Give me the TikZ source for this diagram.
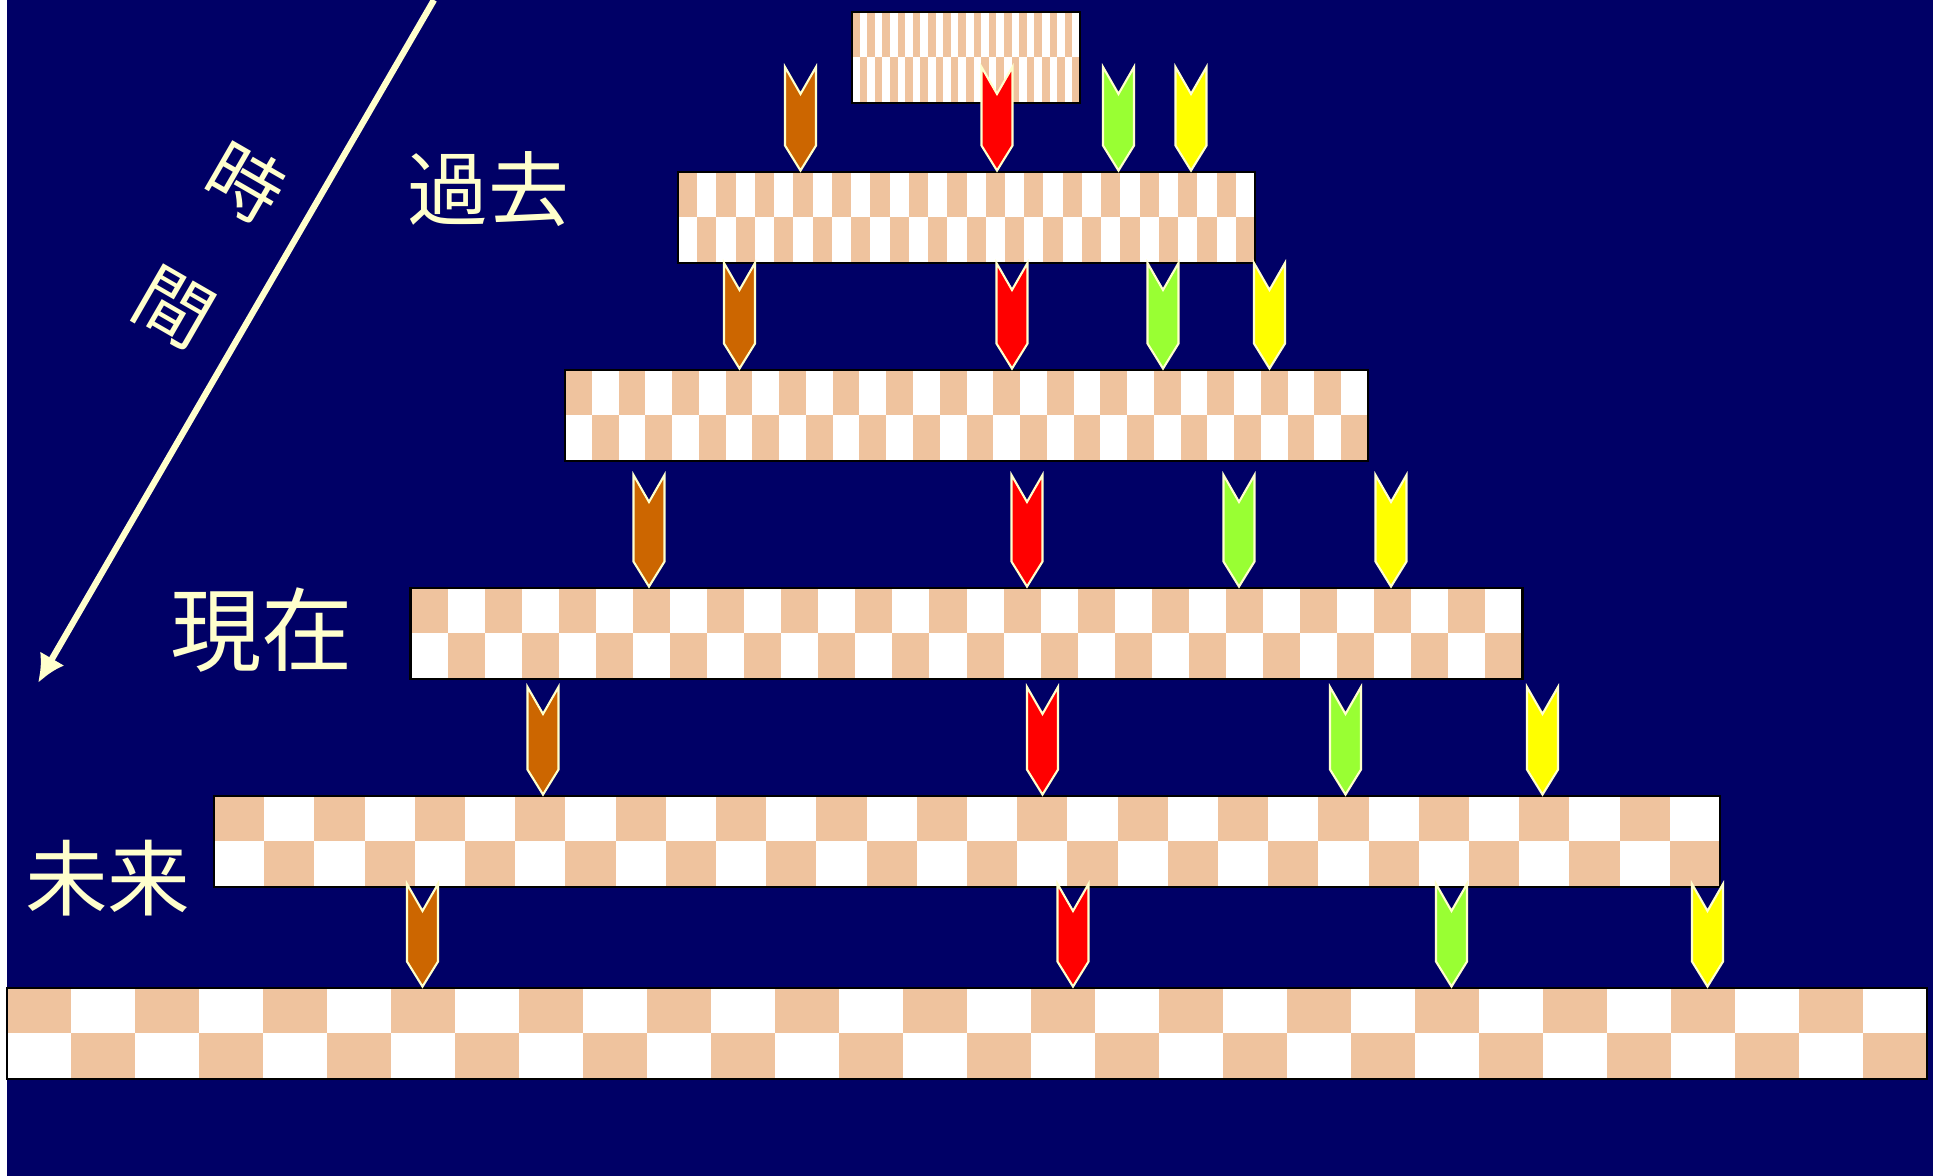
\documentclass[tikz,border=0pt]{standalone}
\usepackage{fontspec}
\newfontfamily\jpfont{Noto Sans CJK JP}
\usepackage{tikz}
\usetikzlibrary{arrows.meta,calc}
\definecolor{nightblue}{HTML}{000066}
\definecolor{checktan}{HTML}{EFC39E}
\definecolor{creamtext}{HTML}{FFFFCC}
\definecolor{flag1}{HTML}{CC6600}
\definecolor{flag2}{HTML}{FF0000}
\definecolor{flag3}{HTML}{99FF33}
\definecolor{flag4}{HTML}{FFFF00}

\tikzset{
  checkbar/.style={draw=black, line width=0.8pt, fill=white, inner sep=0pt,
    minimum height=0.91cm, minimum width=#1,
    path picture={
      \foreach \i [evaluate=\i as \a using \i/30, evaluate=\i as \b using (\i+1)/30,
                   evaluate=\i as \c using (\i+2)/30] in {0,2,...,28} {
        \fill[checktan] ($(path picture bounding box.north west)!\a!(path picture bounding box.north east)$)
          rectangle ($(path picture bounding box.west)!\b!(path picture bounding box.east)$);
        \fill[checktan] ($(path picture bounding box.west)!\b!(path picture bounding box.east)$)
          rectangle ($(path picture bounding box.south west)!\c!(path picture bounding box.south east)$);
      }
    }},
  eralabel/.style={text=creamtext, inner sep=0pt, font=\jpfont\fontsize{#1}{#1}\selectfont}
}

% pennant: x, top y, target bar, colour
\newcommand{\pennant}[4]{%
  \coordinate (ftop) at (#1,#2);
  \coordinate (ftip) at (#1,0 |- #3.north);
  \filldraw[fill=#4, draw=creamtext, line width=0.6pt]
    ($(ftop)+(-0.155,0)$) -- ($(ftop)+(0,-0.27)$) -- ($(ftop)+(0.155,0)$)
    -- ($(ftip)+(0.155,0.25)$) -- (ftip) -- ($(ftip)+(-0.155,0.25)$) -- cycle;
}

\begin{document}
\begin{tikzpicture}
\useasboundingbox (0,0) rectangle (19.33,11.76);
\fill[white] (0,0) rectangle (19.33,11.76);
\fill[nightblue] (0.07,0) rectangle (19.33,11.76);

% the six generations
\node[checkbar=2.28cm] (b1) at (9.66,11.185) {};
\node[checkbar=5.77cm] (b2) at (9.665,9.585) {};
\node[checkbar=8.03cm] (b3) at (9.665,7.605) {};
\node[checkbar=11.12cm] (b4) at (9.665,5.425) {};
\node[checkbar=15.06cm] (b5) at (9.67,3.345) {};
\node[checkbar=19.2cm] (b6) at (9.67,1.425) {};

% handing down
\foreach \x [count=\k] in {8.005,9.97,11.185,11.91} \pennant{\x}{11.09}{b2}{flag\k};
\foreach \x [count=\k] in {7.395,10.12,11.63,12.695} \pennant{\x}{9.13}{b3}{flag\k};
\foreach \x [count=\k] in {6.49,10.27,12.39,13.91} \pennant{\x}{7.01}{b4}{flag\k};
\foreach \x [count=\k] in {5.43,10.425,13.455,15.425} \pennant{\x}{4.89}{b5}{flag\k};
\foreach \x [count=\k] in {4.225,10.73,14.515,17.075} \pennant{\x}{2.92}{b6}{flag\k};

% time axis
\coordinate (tstart) at (4.34,11.76);
\coordinate (tend) at (0.38,4.93);
\draw[creamtext, line width=1.8pt, -{Latex[length=2.8mm,width=2.8mm]}] (tstart) -- (tend);
\node[eralabel=21.5, rotate=-30] (toki) at (2.46,9.94) {時};
\node[eralabel=21.5, rotate=-30] (kan) at (1.74,8.68) {間};

\node[eralabel=23] (past) at (4.88,9.87) {過去};
\node[eralabel=26] (now) at (2.62,5.46) {現在};
\node[eralabel=23.5] (future) at (1.08,2.98) {未来};
\end{tikzpicture}
\end{document}
